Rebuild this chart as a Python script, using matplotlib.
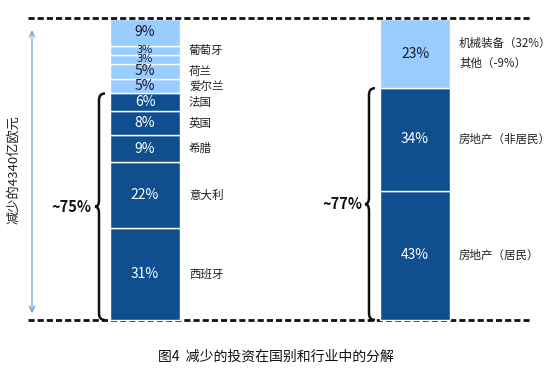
import matplotlib
matplotlib.use("Agg")
import matplotlib.pyplot as plt
from matplotlib.path import Path
from matplotlib.patches import PathPatch
import numpy as np

plt.rcParams['font.family'] = ['Noto Sans CJK SC', 'DejaVu Sans']

# ---- data ----
country_values = [31, 22, 9, 8, 6, 5, 5, 3, 3, 9]          # bottom -> top
country_names = ['西班牙', '意大利', '希腊', '英国', '法国', '爱尔兰', '荷兰', '', '葡萄牙', '']
country_dark = [True, True, True, True, True, False, False, False, False, False]
country_share_label = '~75%'

sector_values = [43, 34, 23]                                 # bottom -> top
sector_names = ['房地产（居民）', '房地产（非居民）', '机械装备（32%）\n其他（-9%）']
sector_dark = [True, True, False]
sector_share_label = '~77%'

total_label = '减少的4340亿欧元'
caption = '图4  减少的投资在国别和行业中的分解'

LIGHT = '#99CCFF'
DARK = '#0F4F8F'

fig = plt.figure(figsize=(5.52, 3.76), dpi=100)
ax = fig.add_axes([0, 0, 1, 1])
ax.set_xlim(0, 552)
ax.set_ylim(-18.6, 106.3)
ax.axis('off')


def stacked(xc, values, names, dark, label_x):
    vals = np.array(values, float)
    scaled = vals / vals.sum() * 100
    bottoms = np.concatenate([[0], np.cumsum(scaled)[:-1]])
    for v, s, b, n, d in zip(vals, scaled, bottoms, names, dark):
        ax.bar(xc, s, bottom=b, width=70, color=DARK if d else LIGHT,
               edgecolor='white', linewidth=1.0, zorder=2)
        fs = 10 if s > 4 else 8
        ax.text(xc, b + s / 2, f'{int(v)}%', ha='center', va='center',
                fontsize=fs, color='white' if d else '#1a1a2a', zorder=4)
        if n:
            ax.text(label_x, b + s / 2, n, ha='left', va='center',
                    fontsize=8.3, color='#222222', linespacing=1.7)
    dark_top = sum(s for s, d in zip(scaled, dark) if d)
    return dark_top


def brace(x, y0, y1, label, label_x):
    ym = (y0 + y1) / 2
    r = 2.2
    verts = [
        (x + 6, y1), (x, y1), (x, y1 - r),
        (x, ym + r), (x, ym), (x - 4, ym),
        (x, ym), (x, ym - r),
        (x, y0 + r), (x, y0), (x + 6, y0),
    ]
    codes = [Path.MOVETO, Path.CURVE3, Path.CURVE3,
             Path.LINETO, Path.CURVE3, Path.CURVE3,
             Path.CURVE3, Path.CURVE3,
             Path.LINETO, Path.CURVE3, Path.CURVE3]
    ax.add_patch(PathPatch(Path(verts, codes), facecolor='none',
                           edgecolor='#111111', linewidth=1.8, zorder=3))
    ax.text(label_x, ym, label, ha='right', va='center', fontsize=10.5,
            fontweight='bold', color='#111111')


top_c = stacked(145, country_values, country_names, country_dark, 189)
top_s = stacked(415, sector_values, sector_names, sector_dark, 459)

brace(99, 0, top_c, country_share_label, 91)
brace(369, 0, top_s, sector_share_label, 362)

# dashed reference lines
ax.plot([28, 532], [100.3, 100.3], color='#111111', lw=2, dashes=(2.2, 1.1), zorder=5)
ax.plot([28, 530], [0, 0], color='#111111', lw=2, dashes=(2.2, 1.1), zorder=1)

# total arrow
ax.annotate('', xy=(32, 96.3), xytext=(32, 2.3),
            arrowprops=dict(arrowstyle='<->', color='#6FA0DC', lw=0.9,
                            shrinkA=0, shrinkB=0))
ax.text(14, 50, total_label, rotation=90, ha='center', va='center',
        fontsize=9.5, color='#222222')

ax.text(276, -12.3, caption, ha='center', va='center', fontsize=10, color='#111111')

fig.savefig('out.png', dpi=100)
